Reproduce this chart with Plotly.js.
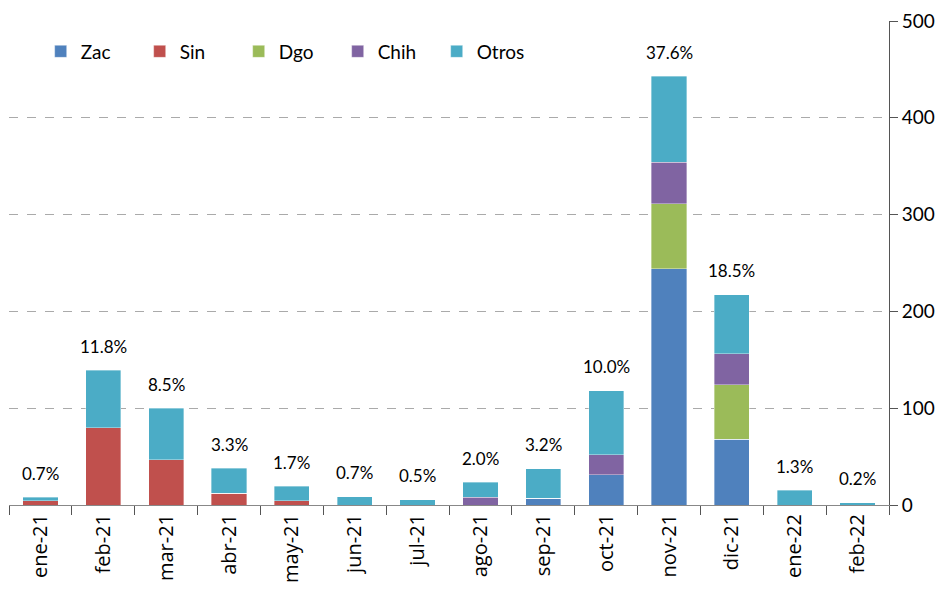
<!DOCTYPE html>
<html>
<head>
<meta charset="utf-8">
<script src="https://cdn.plot.ly/plotly-3.0.1.min.js"></script>
<style>html,body{margin:0;padding:0;background:#fff;}#chart{width:951px;height:590px;}</style>
</head>
<body>
<div id="chart"></div>
<script>
const months = ["ene-21","feb-21","mar-21","abr-21","may-21","jun-21","jul-21","ago-21","sep-21","oct-21","nov-21","dic-21","ene-22","feb-22"];
const zac   = [0, 0, 0, 0, 0, 0, 0, 0, 7, 31, 244, 68, 0, 0];
const sin   = [4.5, 80, 47, 12, 4.5, 0, 0, 0, 0, 0, 0, 0, 0, 0];
const dgo   = [0, 0, 0, 0, 0, 0, 0, 0, 0, 0, 67, 56, 0, 0];
const chih  = [0, 0, 0, 0, 0, 0, 0, 8, 0, 21, 43, 32, 0, 0];
const otros = [3.5, 59, 53, 26, 15, 8.3, 5.2, 15.4, 30.3, 66, 89, 61, 15, 2.4];
const pctLabels = ["0.7%","11.8%","8.5%","3.3%","1.7%","0.7%","0.5%","2.0%","3.2%","10.0%","37.6%","18.5%","1.3%","0.2%"];

const FONT = "Lato, 'Open Sans', sans-serif";
const series = [
  {name: "Zac", y: zac, color: "#4F81BD"},
  {name: "Sin", y: sin, color: "#C0504D"},
  {name: "Dgo", y: dgo, color: "#9BBB59"},
  {name: "Chih", y: chih, color: "#8064A2"},
  {name: "Otros", y: otros, color: "#4BACC6"}
];
const traces = series.map(s => ({
  type: "bar", name: s.name, x: months, y: s.y,
  marker: {color: s.color, line: {color: "rgba(255,255,255,0.6)", width: 0.6}},
  hoverinfo: "x+y+name"
}));
const totals = months.map((m, i) => series.reduce((a, s) => a + s.y[i], 0));
const annotations = months.map((m, i) => ({
  x: m, y: totals[i], xref: "x", yref: "y", text: pctLabels[i],
  showarrow: false, yanchor: "middle", yshift: 24,
  font: {family: FONT, size: 17, color: "#000"}
}));

const layout = {
  width: 951, height: 590,
  margin: {l: 9, r: 62, t: 21, b: 85},
  paper_bgcolor: "#fff", plot_bgcolor: "#fff",
  barmode: "stack", bargap: 0.44,
  showlegend: true,
  legend: {orientation: "h", x: 0.036, y: 0.937, xanchor: "left", yanchor: "middle",
    font: {family: FONT, size: 19, color: "#000"}, traceorder: "normal",
    entrywidth: 54, entrywidthmode: "pixels", bgcolor: "rgba(0,0,0,0)"},
  xaxis: {
    type: "category", tickangle: -90, ticks: "outside", tickson: "boundaries",
    ticklen: 9, tickcolor: "#555", showline: true, linecolor: "#888", linewidth: 1,
    showgrid: false, tickfont: {family: "'Open Sans', sans-serif", size: 20, color: "#000"}
  },
  yaxis: {
    side: "right", range: [0, 500], tickvals: [0, 100, 200, 300, 400, 500],
    ticks: "outside", ticklen: 8, tickcolor: "#555", showline: true, linecolor: "#555",
    showgrid: true, gridcolor: "#aaaaaa", griddash: "dash", gridwidth: 1,
    zeroline: false, tickfont: {family: FONT, size: 19, color: "#000"}
  },
  annotations: annotations
};
Plotly.newPlot("chart", traces, layout, {displayModeBar: false, staticPlot: true});
</script>
</body>
</html>
